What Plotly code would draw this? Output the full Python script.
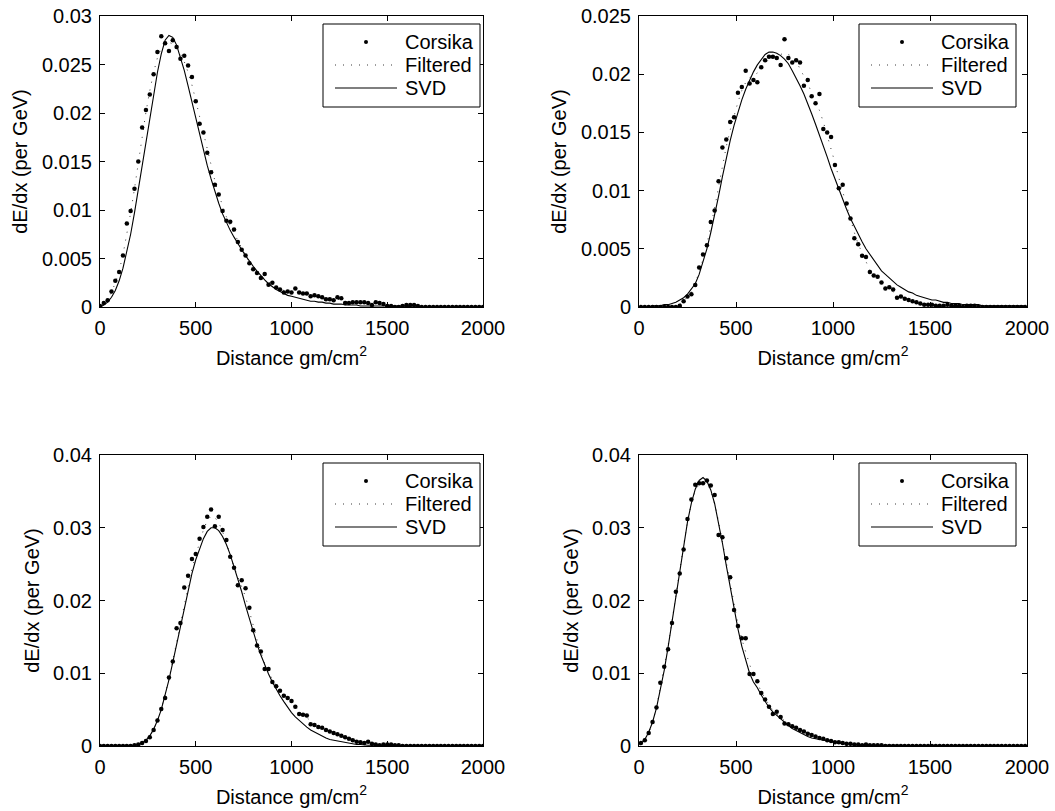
import plotly.graph_objects as go

# Depth grids (gm/cm^2): left-hand panels sampled at 0..2000, right-hand at bin centres 10..1990
depth_left = list(range(0, 2001, 20))
depth_right = list(range(10, 2000, 20))

# ---- Panel 1 (top left) ----
corsika_1 = [
    0.0001, 0.0004, 0.0007, 0.0016, 0.0027, 0.0036, 0.0053, 0.0086, 0.0099, 0.0122,
    0.0150, 0.0185, 0.0203, 0.0219, 0.0240, 0.0263, 0.0279, 0.0272, 0.0264, 0.0275,
    0.0268, 0.0256, 0.0259, 0.0249, 0.0237, 0.0212, 0.0189, 0.0180, 0.0159, 0.0139,
    0.0126, 0.0116, 0.0099, 0.0089, 0.0088, 0.0080, 0.0067, 0.0059, 0.0053, 0.0045,
    0.0039, 0.0035, 0.0030, 0.0034, 0.0023, 0.0025, 0.0020, 0.0018, 0.0015, 0.0016,
    0.0015, 0.0019, 0.0015, 0.0014, 0.0014, 0.0011, 0.0012, 0.0011, 0.0010, 0.0008,
    0.0008, 0.0007, 0.0010, 0.0009, 0.0004, 0.0004, 0.0005, 0.0005, 0.0005, 0.0005,
    0.0004, 0.0002, 0.0005, 0.0004, 0.0003, 0.0001, 0.0001, 0.0000, 0.0000, 0.0001,
    0.0002, 0.0002, 0.0002, 0.0001, 0.0000, 0.0000, 0.0000, 0.0000, 0.0000, 0.0000,
    0.0000, 0.0000, 0.0000, 0.0000, 0.0000, 0.0000, 0.0000, 0.0000, 0.0000, 0.0000,
    0.0000,
]
filtered_1 = [
    0.0001, 0.0004, 0.0008, 0.0015, 0.0025, 0.0037, 0.0054, 0.0074, 0.0097, 0.0122,
    0.0149, 0.0176, 0.0201, 0.0223, 0.0242, 0.0257, 0.0267, 0.0272, 0.0273, 0.0271,
    0.0267, 0.0261, 0.0253, 0.0242, 0.0229, 0.0213, 0.0196, 0.0179, 0.0162, 0.0145,
    0.0130, 0.0116, 0.0104, 0.0093, 0.0084, 0.0076, 0.0068, 0.0060, 0.0053, 0.0047,
    0.0041, 0.0036, 0.0032, 0.0029, 0.0026, 0.0023, 0.0021, 0.0019, 0.0017, 0.0016,
    0.0016, 0.0016, 0.0015, 0.0014, 0.0013, 0.0012, 0.0012, 0.0011, 0.0010, 0.0009,
    0.0008, 0.0008, 0.0008, 0.0007, 0.0006, 0.0005, 0.0005, 0.0005, 0.0005, 0.0004,
    0.0004, 0.0004, 0.0004, 0.0003, 0.0002, 0.0001, 0.0001, 0.0001, 0.0001, 0.0001,
    0.0002, 0.0002, 0.0001, 0.0001, 0.0000, 0.0000, 0.0000, 0.0000, 0.0000, 0.0000,
    0.0000, 0.0000, 0.0000, 0.0000, 0.0000, 0.0000, 0.0000, 0.0000, 0.0000, 0.0000,
    0.0000,
]
svd_1 = [
    0.0000, 0.0002, 0.0005, 0.0010, 0.0017, 0.0027, 0.0040, 0.0056, 0.0075, 0.0097,
    0.0121, 0.0146, 0.0171, 0.0196, 0.0220, 0.0242, 0.0261, 0.0275, 0.0280, 0.0278,
    0.0270, 0.0258, 0.0244, 0.0228, 0.0211, 0.0194, 0.0177, 0.0161, 0.0146, 0.0132,
    0.0119, 0.0107, 0.0096, 0.0087, 0.0079, 0.0072, 0.0065, 0.0059, 0.0053, 0.0047,
    0.0042, 0.0037, 0.0032, 0.0028, 0.0024, 0.0021, 0.0018, 0.0016, 0.0014, 0.0012,
    0.0011, 0.0010, 0.0009, 0.0008, 0.0007, 0.0006, 0.0006, 0.0005, 0.0005, 0.0004,
    0.0004, 0.0003, 0.0003, 0.0003, 0.0002, 0.0002, 0.0002, 0.0002, 0.0001, 0.0001,
    0.0001, 0.0001, 0.0001, 0.0001, 0.0001, 0.0001, 0.0001, 0.0001, 0.0001, 0.0001,
    0.0001, 0.0000, 0.0000, 0.0000, 0.0000, 0.0000, 0.0000, 0.0000, 0.0000, 0.0000,
    0.0000, 0.0000, 0.0000, 0.0000, 0.0000, 0.0000, 0.0000, 0.0000, 0.0000, 0.0000,
    0.0000,
]

# ---- Panel 2 (top right) ----
corsika_2 = [
    0.0000, 0.0000, 0.0000, 0.0000, 0.0000, 0.0000, 0.0000, 0.0000, 0.0000, 0.0000,
    0.0001, 0.0005, 0.0009, 0.0011, 0.0019, 0.0034, 0.0045, 0.0053, 0.0073, 0.0083,
    0.0108, 0.0137, 0.0144, 0.0159, 0.0163, 0.0184, 0.0189, 0.0203, 0.0192, 0.0195,
    0.0193, 0.0206, 0.0212, 0.0215, 0.0215, 0.0214, 0.0208, 0.0230, 0.0214, 0.0210,
    0.0212, 0.0210, 0.0190, 0.0195, 0.0181, 0.0175, 0.0183, 0.0153, 0.0150, 0.0146,
    0.0122, 0.0102, 0.0105, 0.0089, 0.0076, 0.0059, 0.0054, 0.0044, 0.0043, 0.0030,
    0.0027, 0.0026, 0.0021, 0.0016, 0.0017, 0.0015, 0.0008, 0.0009, 0.0007, 0.0006,
    0.0005, 0.0004, 0.0003, 0.0002, 0.0002, 0.0002, 0.0001, 0.0001, 0.0001, 0.0002,
    0.0001, 0.0001, 0.0001, 0.0000, 0.0001, 0.0001, 0.0001, 0.0000, 0.0000, 0.0000,
    0.0000, 0.0000, 0.0000, 0.0000, 0.0000, 0.0000, 0.0000, 0.0000, 0.0000, 0.0000,
]
filtered_2 = [
    0.0000, 0.0000, 0.0000, 0.0000, 0.0000, 0.0000, 0.0000, 0.0000, 0.0000, 0.0000,
    0.0002, 0.0005, 0.0009, 0.0013, 0.0020, 0.0030, 0.0041, 0.0054, 0.0069, 0.0085,
    0.0103, 0.0121, 0.0138, 0.0152, 0.0165, 0.0176, 0.0186, 0.0193, 0.0197, 0.0199,
    0.0201, 0.0205, 0.0209, 0.0213, 0.0215, 0.0216, 0.0217, 0.0218, 0.0217, 0.0215,
    0.0211, 0.0205, 0.0199, 0.0192, 0.0184, 0.0177, 0.0169, 0.0159, 0.0148, 0.0137,
    0.0124, 0.0111, 0.0099, 0.0087, 0.0075, 0.0064, 0.0054, 0.0046, 0.0039, 0.0032,
    0.0027, 0.0023, 0.0020, 0.0017, 0.0015, 0.0013, 0.0010, 0.0008, 0.0007, 0.0006,
    0.0005, 0.0004, 0.0003, 0.0002, 0.0002, 0.0002, 0.0001, 0.0001, 0.0001, 0.0001,
    0.0001, 0.0001, 0.0001, 0.0001, 0.0001, 0.0001, 0.0001, 0.0001, 0.0000, 0.0000,
    0.0000, 0.0000, 0.0000, 0.0000, 0.0000, 0.0000, 0.0000, 0.0000, 0.0000, 0.0000,
]
svd_2 = [
    0.0000, 0.0000, 0.0000, 0.0001, 0.0001, 0.0001, 0.0002, 0.0002, 0.0003, 0.0004,
    0.0006, 0.0008, 0.0011, 0.0015, 0.0020, 0.0028, 0.0038, 0.0050, 0.0064, 0.0079,
    0.0095, 0.0112, 0.0128, 0.0143, 0.0156, 0.0168, 0.0178, 0.0187, 0.0195, 0.0202,
    0.0208, 0.0213, 0.0217, 0.0219, 0.0219, 0.0218, 0.0216, 0.0213, 0.0209, 0.0203,
    0.0197, 0.0190, 0.0183, 0.0175, 0.0166, 0.0157, 0.0148, 0.0138, 0.0129, 0.0119,
    0.0110, 0.0101, 0.0092, 0.0084, 0.0076, 0.0069, 0.0062, 0.0056, 0.0050, 0.0045,
    0.0040, 0.0035, 0.0031, 0.0028, 0.0025, 0.0022, 0.0019, 0.0017, 0.0015, 0.0013,
    0.0012, 0.0010, 0.0009, 0.0008, 0.0007, 0.0006, 0.0006, 0.0005, 0.0004, 0.0004,
    0.0003, 0.0003, 0.0003, 0.0002, 0.0002, 0.0002, 0.0002, 0.0002, 0.0001, 0.0001,
    0.0001, 0.0001, 0.0001, 0.0001, 0.0001, 0.0001, 0.0001, 0.0001, 0.0001, 0.0001,
]

# ---- Panel 3 (bottom left) ----
corsika_3 = [
    0.0000, 0.0000, 0.0000, 0.0000, 0.0000, 0.0000, 0.0000, 0.0000, 0.0000, 0.0001,
    0.0002, 0.0004, 0.0007, 0.0012, 0.0022, 0.0035, 0.0051, 0.0066, 0.0094, 0.0116,
    0.0162, 0.0169, 0.0218, 0.0234, 0.0257, 0.0264, 0.0285, 0.0301, 0.0315, 0.0325,
    0.0302, 0.0315, 0.0297, 0.0283, 0.0260, 0.0245, 0.0221, 0.0228, 0.0217, 0.0190,
    0.0159, 0.0138, 0.0130, 0.0106, 0.0106, 0.0088, 0.0082, 0.0076, 0.0069, 0.0066,
    0.0062, 0.0054, 0.0044, 0.0043, 0.0042, 0.0030, 0.0029, 0.0026, 0.0025, 0.0022,
    0.0020, 0.0018, 0.0016, 0.0014, 0.0012, 0.0010, 0.0008, 0.0006, 0.0005, 0.0004,
    0.0006, 0.0003, 0.0002, 0.0001, 0.0002, 0.0002, 0.0002, 0.0001, 0.0001, 0.0000,
    0.0000, 0.0000, 0.0000, 0.0000, 0.0000, 0.0000, 0.0000, 0.0000, 0.0000, 0.0000,
    0.0000, 0.0000, 0.0000, 0.0000, 0.0000, 0.0000, 0.0000, 0.0000, 0.0000, 0.0000,
    0.0000,
]
filtered_3 = [
    0.0000, 0.0000, 0.0000, 0.0000, 0.0000, 0.0000, 0.0000, 0.0000, 0.0000, 0.0001,
    0.0002, 0.0004, 0.0008, 0.0013, 0.0022, 0.0035, 0.0051, 0.0070, 0.0092, 0.0117,
    0.0143, 0.0170, 0.0197, 0.0222, 0.0244, 0.0262, 0.0280, 0.0297, 0.0310, 0.0316,
    0.0314, 0.0307, 0.0295, 0.0280, 0.0263, 0.0246, 0.0231, 0.0219, 0.0205, 0.0187,
    0.0166, 0.0146, 0.0128, 0.0113, 0.0101, 0.0091, 0.0083, 0.0076, 0.0070, 0.0065,
    0.0060, 0.0054, 0.0048, 0.0043, 0.0039, 0.0034, 0.0030, 0.0027, 0.0024, 0.0022,
    0.0020, 0.0018, 0.0016, 0.0014, 0.0012, 0.0010, 0.0008, 0.0007, 0.0006, 0.0005,
    0.0005, 0.0003, 0.0002, 0.0002, 0.0002, 0.0002, 0.0002, 0.0001, 0.0001, 0.0000,
    0.0000, 0.0000, 0.0000, 0.0000, 0.0000, 0.0000, 0.0000, 0.0000, 0.0000, 0.0000,
    0.0000, 0.0000, 0.0000, 0.0000, 0.0000, 0.0000, 0.0000, 0.0000, 0.0000, 0.0000,
    0.0000,
]
svd_3 = [
    0.0000, 0.0000, 0.0000, 0.0000, 0.0000, 0.0000, 0.0000, 0.0000, 0.0000, 0.0001,
    0.0002, 0.0004, 0.0008, 0.0014, 0.0023, 0.0035, 0.0050, 0.0069, 0.0091, 0.0115,
    0.0140, 0.0166, 0.0191, 0.0215, 0.0237, 0.0256, 0.0272, 0.0285, 0.0295, 0.0300,
    0.0300, 0.0296, 0.0288, 0.0277, 0.0263, 0.0247, 0.0230, 0.0212, 0.0193, 0.0175,
    0.0157, 0.0140, 0.0125, 0.0111, 0.0099, 0.0088, 0.0078, 0.0069, 0.0061, 0.0053,
    0.0046, 0.0040, 0.0035, 0.0030, 0.0026, 0.0022, 0.0019, 0.0016, 0.0013, 0.0011,
    0.0009, 0.0008, 0.0006, 0.0005, 0.0004, 0.0003, 0.0003, 0.0002, 0.0002, 0.0001,
    0.0001, 0.0001, 0.0001, 0.0001, 0.0001, 0.0001, 0.0000, 0.0000, 0.0000, 0.0000,
    0.0000, 0.0000, 0.0000, 0.0000, 0.0000, 0.0000, 0.0000, 0.0000, 0.0000, 0.0000,
    0.0000, 0.0000, 0.0000, 0.0000, 0.0000, 0.0000, 0.0000, 0.0000, 0.0000, 0.0000,
    0.0000,
]

# ---- Panel 4 (bottom right) ----
corsika_4 = [
    0.0004, 0.0008, 0.0018, 0.0033, 0.0053, 0.0087, 0.0109, 0.0133, 0.0169, 0.0212,
    0.0237, 0.0270, 0.0312, 0.0339, 0.0359, 0.0361, 0.0361, 0.0365, 0.0358, 0.0345,
    0.0290, 0.0287, 0.0258, 0.0232, 0.0187, 0.0165, 0.0148, 0.0148, 0.0099, 0.0099,
    0.0089, 0.0073, 0.0064, 0.0054, 0.0044, 0.0047, 0.0040, 0.0031, 0.0030, 0.0027,
    0.0025, 0.0022, 0.0020, 0.0017, 0.0015, 0.0013, 0.0011, 0.0010, 0.0008, 0.0007,
    0.0005, 0.0005, 0.0004, 0.0003, 0.0003, 0.0002, 0.0002, 0.0001, 0.0002, 0.0001,
    0.0001, 0.0001, 0.0001, 0.0000, 0.0000, 0.0000, 0.0000, 0.0000, 0.0000, 0.0000,
    0.0000, 0.0000, 0.0000, 0.0000, 0.0000, 0.0000, 0.0000, 0.0000, 0.0000, 0.0000,
    0.0000, 0.0000, 0.0000, 0.0000, 0.0000, 0.0000, 0.0000, 0.0000, 0.0000, 0.0000,
    0.0000, 0.0000, 0.0000, 0.0000, 0.0000, 0.0000, 0.0000, 0.0000, 0.0000, 0.0000,
]
filtered_4 = [
    0.0004, 0.0009, 0.0018, 0.0033, 0.0053, 0.0080, 0.0108, 0.0138, 0.0172, 0.0208,
    0.0242, 0.0276, 0.0308, 0.0334, 0.0351, 0.0360, 0.0363, 0.0361, 0.0351, 0.0333,
    0.0309, 0.0281, 0.0252, 0.0222, 0.0193, 0.0168, 0.0147, 0.0129, 0.0112, 0.0098,
    0.0086, 0.0075, 0.0065, 0.0056, 0.0049, 0.0044, 0.0039, 0.0034, 0.0030, 0.0027,
    0.0024, 0.0022, 0.0019, 0.0017, 0.0015, 0.0013, 0.0011, 0.0010, 0.0008, 0.0007,
    0.0006, 0.0005, 0.0004, 0.0003, 0.0003, 0.0002, 0.0002, 0.0002, 0.0001, 0.0001,
    0.0001, 0.0001, 0.0001, 0.0001, 0.0001, 0.0000, 0.0000, 0.0000, 0.0000, 0.0000,
    0.0000, 0.0000, 0.0000, 0.0000, 0.0000, 0.0000, 0.0000, 0.0000, 0.0000, 0.0000,
    0.0000, 0.0000, 0.0000, 0.0000, 0.0000, 0.0000, 0.0000, 0.0000, 0.0000, 0.0000,
    0.0000, 0.0000, 0.0000, 0.0000, 0.0000, 0.0000, 0.0000, 0.0000, 0.0000, 0.0000,
]
svd_4 = [
    0.0003, 0.0009, 0.0019, 0.0033, 0.0052, 0.0076, 0.0104, 0.0136, 0.0171, 0.0207,
    0.0243, 0.0277, 0.0308, 0.0334, 0.0353, 0.0365, 0.0369, 0.0364, 0.0352, 0.0333,
    0.0308, 0.0279, 0.0248, 0.0217, 0.0188, 0.0161, 0.0137, 0.0117, 0.0100, 0.0088,
    0.0080, 0.0070, 0.0061, 0.0053, 0.0047, 0.0042, 0.0037, 0.0032, 0.0028, 0.0024,
    0.0021, 0.0018, 0.0015, 0.0013, 0.0011, 0.0010, 0.0008, 0.0007, 0.0006, 0.0005,
    0.0004, 0.0004, 0.0003, 0.0003, 0.0002, 0.0002, 0.0002, 0.0001, 0.0001, 0.0001,
    0.0001, 0.0001, 0.0001, 0.0001, 0.0001, 0.0001, 0.0001, 0.0001, 0.0001, 0.0001,
    0.0000, 0.0000, 0.0000, 0.0000, 0.0000, 0.0000, 0.0000, 0.0000, 0.0000, 0.0000,
    0.0000, 0.0000, 0.0000, 0.0000, 0.0000, 0.0000, 0.0000, 0.0000, 0.0000, 0.0000,
    0.0000, 0.0000, 0.0000, 0.0000, 0.0000, 0.0000, 0.0000, 0.0000, 0.0000, 0.0000,
]

series_names = ["Corsika", "Filtered", "SVD"]
x_ticks = [0, 500, 1000, 1500, 2000]
y_ranges = [[0, 0.03], [0, 0.025], [0, 0.04], [0, 0.04]]
y_steps = [0.005, 0.005, 0.01, 0.01]

W, H = 1055, 811
FONT = "Liberation Sans, Arial, Helvetica, sans-serif"
FS = 20
FILTERED_DASH = "1px,7px"

# plot-area boxes in pixels: (left, right, top, bottom)
boxes = [
    (100, 483, 16, 307),
    (639, 1027, 16, 307),
    (100, 483, 455, 746),
    (639, 1027, 455, 746),
]
# top-right corner of each legend box, in pixels
legend_corner = [(480, 24), (1016, 24), (480, 463), (1016, 463)]

panels = [
    (depth_left, corsika_1, filtered_1, svd_1),
    (depth_right, corsika_2, filtered_2, svd_2),
    (depth_left, corsika_3, filtered_3, svd_3),
    (depth_right, corsika_4, filtered_4, svd_4),
]


def px(x):
    return x / W


def py(y):
    return 1 - y / H


fig = go.Figure()
layout = dict(
    width=W, height=H,
    margin=dict(l=0, r=0, t=0, b=0),
    paper_bgcolor="white", plot_bgcolor="white",
    font=dict(family=FONT, size=FS, color="black"),
    showlegend=False,
)
shapes = []
annotations = []

for i, (xs, cors, filt, svd) in enumerate(panels):
    n = i + 1
    xa = "x" if n == 1 else f"x{n}"
    ya = "y" if n == 1 else f"y{n}"
    assert len(xs) == len(cors) == len(filt) == len(svd)

    fig.add_trace(go.Scatter(
        x=xs, y=filt, mode="lines", name=series_names[1],
        line=dict(color="#3a3a3a", width=1, dash=FILTERED_DASH),
        xaxis=xa, yaxis=ya,
    ))
    fig.add_trace(go.Scatter(
        x=xs, y=svd, mode="lines", name=series_names[2],
        line=dict(color="black", width=1.1),
        xaxis=xa, yaxis=ya,
    ))
    fig.add_trace(go.Scatter(
        x=xs, y=cors, mode="markers", name=series_names[0],
        marker=dict(color="black", size=4.5, symbol="circle", line=dict(width=0)),
        xaxis=xa, yaxis=ya,
    ))

    left, right, top, bottom = boxes[i]
    axis_common = dict(
        showline=True, linecolor="black", linewidth=1, mirror="ticks",
        ticks="inside", ticklen=5, tickcolor="black", tickwidth=1,
        showgrid=False, zeroline=False, automargin=False,
        tickfont=dict(family=FONT, size=FS, color="black"),
    )
    layout["xaxis" if n == 1 else f"xaxis{n}"] = dict(
        axis_common,
        domain=[left / W, right / W],
        anchor=ya,
        range=[0, 2000],
        tickmode="array", tickvals=x_ticks,
        ticktext=[str(v) for v in x_ticks],
        ticklabelstandoff=3,
        title=dict(text="Distance gm/cm<sup>2</sup>", standoff=12,
                   font=dict(family=FONT, size=FS, color="black")),
    )
    y0, y1 = y_ranges[i]
    layout["yaxis" if n == 1 else f"yaxis{n}"] = dict(
        axis_common,
        domain=[1 - bottom / H, 1 - top / H],
        anchor=xa,
        range=[y0, y1],
        tick0=0, dtick=y_steps[i],
        ticklabelstandoff=3,
        title=dict(text="dE/dx (per GeV)", standoff=8,
                   font=dict(family=FONT, size=FS, color="black")),
    )

    # legend box with its three keyed entries
    rx, ty = legend_corner[i]
    lx = rx - 157
    by = ty + 83
    shapes.append(dict(type="rect", xref="paper", yref="paper",
                       x0=px(lx), x1=px(rx), y0=py(by), y1=py(ty),
                       line=dict(color="black", width=1), fillcolor="white",
                       layer="above"))
    row_y = [ty + 18, ty + 41, ty + 64]
    s0, s1 = lx + 12, lx + 74
    sc = (s0 + s1) / 2
    shapes.append(dict(type="circle", xref="paper", yref="paper",
                       x0=px(sc - 2), x1=px(sc + 2),
                       y0=py(row_y[0] + 2), y1=py(row_y[0] - 2),
                       line=dict(color="black", width=0), fillcolor="black",
                       layer="above"))
    shapes.append(dict(type="line", xref="paper", yref="paper",
                       x0=px(s0), x1=px(s1), y0=py(row_y[1]), y1=py(row_y[1]),
                       line=dict(color="#3a3a3a", width=1, dash=FILTERED_DASH),
                       layer="above"))
    shapes.append(dict(type="line", xref="paper", yref="paper",
                       x0=px(s0), x1=px(s1), y0=py(row_y[2]), y1=py(row_y[2]),
                       line=dict(color="black", width=1.1), layer="above"))
    for name, yy in zip(series_names, row_y):
        annotations.append(dict(
            text=name, xref="paper", yref="paper",
            x=px(lx + 80), y=py(yy), xanchor="left", yanchor="middle",
            showarrow=False, font=dict(family=FONT, size=FS, color="black"),
        ))

layout["shapes"] = shapes
layout["annotations"] = annotations
fig.update_layout(**layout)
fig.write_html("out.html")
